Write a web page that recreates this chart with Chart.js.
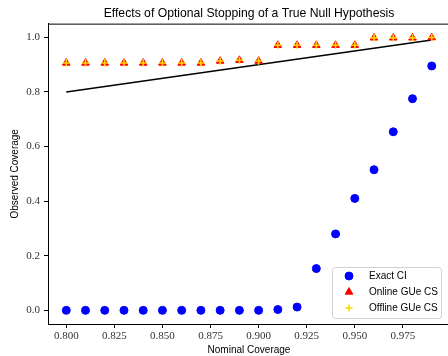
<!DOCTYPE html>
<html>
<head>
<meta charset="utf-8">
<script src="https://cdn.jsdelivr.net/npm/chart.js@4.4.1/dist/chart.umd.min.js"></script>
<style>
html,body{margin:0;padding:0;background:#fff;overflow:hidden;width:448px;height:356px;}
canvas{display:block;}
</style>
</head>
<body>
<canvas id="c" width="452" height="356"></canvas>
<script>
const nominal = [0.80,0.81,0.82,0.83,0.84,0.85,0.86,0.87,0.88,0.89,0.90,0.91,0.92,0.93,0.94,0.95,0.96,0.97,0.98,0.99];
const exactCI = [0,0,0,0,0,0,0,0,0,0,0,0.003,0.012,0.153,0.280,0.410,0.515,0.654,0.775,0.895];
const onlineCS = [0.906,0.906,0.906,0.906,0.906,0.906,0.906,0.906,0.913,0.916,0.913,0.971,0.971,0.971,0.971,0.971,0.998,0.998,0.998,0.999];
const offlineCS = [0.906,0.906,0.906,0.906,0.906,0.906,0.906,0.906,0.913,0.916,0.913,0.971,0.971,0.971,0.971,0.971,0.998,0.998,0.998,0.999];
const diagLine = [0.80,0.99];
const xTicks = [0.800,0.825,0.850,0.875,0.900,0.925,0.950,0.975];
const yTicks = [0.0,0.2,0.4,0.6,0.8,1.0];

const pts = (xs, ys) => xs.map((x,i)=>({x:x,y:ys[i]}));
const serif = "'Liberation Serif','DejaVu Serif',serif";
const sans = "'Liberation Sans','DejaVu Sans',sans-serif";

const spines = {
  id:'spines',
  afterDatasetsDraw(chart){
    const a = chart.chartArea, ctx = chart.ctx;
    ctx.save();
    ctx.strokeStyle = '#000'; ctx.lineWidth = 1;
    ctx.beginPath();
    ctx.moveTo(a.left, a.top+0.5); ctx.lineTo(a.right, a.top+0.5);
    ctx.moveTo(a.right-0.5, a.top); ctx.lineTo(a.right-0.5, a.bottom);
    ctx.stroke();
    ctx.restore();
  }
};

const legendBox = {
  id:'legendBox',
  afterDraw(chart){
    const a = chart.chartArea, ctx = chart.ctx;
    const order = [0,1,2];
    const w = 109, h = 51;
    const x0 = 332, y0 = a.bottom - 6 - h;
    ctx.save();
    ctx.fillStyle = 'rgba(255,255,255,0.8)';
    ctx.strokeStyle = '#d0d0d0'; ctx.lineWidth = 1;
    ctx.beginPath();
    if (ctx.roundRect) ctx.roundRect(x0+0.5,y0+0.5,w,h,3); else ctx.rect(x0+0.5,y0+0.5,w,h);
    ctx.fill(); ctx.stroke();
    ctx.font = "10px " + sans;
    ctx.textBaseline = 'middle';
    order.forEach((di,k)=>{
      const ds = chart.data.datasets[di];
      const cy = y0 + 9 + k*16;
      ctx.fillStyle = ds.backgroundColor; ctx.strokeStyle = ds.borderColor; ctx.lineWidth = ds.borderWidth||1;
      Chart.helpers.drawPoint(ctx, {pointStyle: ds.pointStyle, radius: ds.pointRadius, borderWidth: ds.borderWidth||1, rotation:0}, x0+17, cy);
      ctx.fillStyle = '#000';
      ctx.fillText(ds.label, x0+37, cy+0.5);
    });
    ctx.restore();
  }
};

new Chart(document.getElementById('c'), {
  type:'scatter',
  data:{
    datasets:[
      {label:'Exact CI', data:pts(nominal,exactCI), pointStyle:'circle', pointRadius:4, backgroundColor:'#0000ff', borderColor:'#0000ff', borderWidth:1, order:2},
      {label:'Online GUe CS', data:pts(nominal,onlineCS), pointStyle:'triangle', pointRadius:4.4, backgroundColor:'#ff0000', borderColor:'#ff0000', borderWidth:1, order:1},
      {label:'Offline GUe CS', data:pts(nominal,offlineCS), pointStyle:'cross', pointRadius:3.6, backgroundColor:'#ffd700', borderColor:'#ffd700', borderWidth:1.6, order:0},
      {type:'line', label:'y = x', data:pts(diagLine,diagLine), borderColor:'#000', borderWidth:1.5, pointRadius:0, fill:false, showLine:true, order:3}
    ]
  },
  options:{
    responsive:false,
    animation:false,
    layout:{autoPadding:false, padding:{left:0,right:2,top:0,bottom:0}},
    plugins:{
      legend:{display:false},
      tooltip:{enabled:false},
      title:{display:true, text:'Effects of Optional Stopping of a True Null Hypothesis', fullSize:false,
        font:{family:sans, size:12.2, weight:'normal'}, color:'#000', padding:{top:6,bottom:3}}
    },
    scales:{
      x:{type:'linear', min:0.7905, max:0.9995,
        afterBuildTicks(s){ s.ticks = xTicks.map(v=>({value:v})); },
        afterFit(s){ s.height = 32; },
        ticks:{callback:v=>v.toFixed(3), font:{family:serif,size:11}, color:'#333', padding:2, maxRotation:0, autoSkip:false},
        grid:{display:true, drawOnChartArea:false, drawTicks:true, tickLength:4, color:'#000'},
        border:{display:true, color:'#000', width:1},
        title:{display:true, text:'Nominal Coverage', font:{family:sans,size:10}, color:'#000', padding:{top:0,bottom:0}}
      },
      y:{type:'linear', min:-0.05, max:1.05,
        afterBuildTicks(s){ s.ticks = yTicks.map(v=>({value:v})); },
        afterFit(s){ s.width = 48; },
        ticks:{callback:v=>v.toFixed(1), font:{family:serif,size:11}, color:'#333', padding:4, autoSkip:false},
        grid:{display:true, drawOnChartArea:false, drawTicks:true, tickLength:4, color:'#000'},
        border:{display:true, color:'#000', width:1},
        title:{display:true, text:'Observed Coverage', font:{family:sans,size:10}, color:'#000', padding:{top:9,bottom:0}}
      }
    }
  },
  plugins:[spines, legendBox]
});
</script>
</body>
</html>
